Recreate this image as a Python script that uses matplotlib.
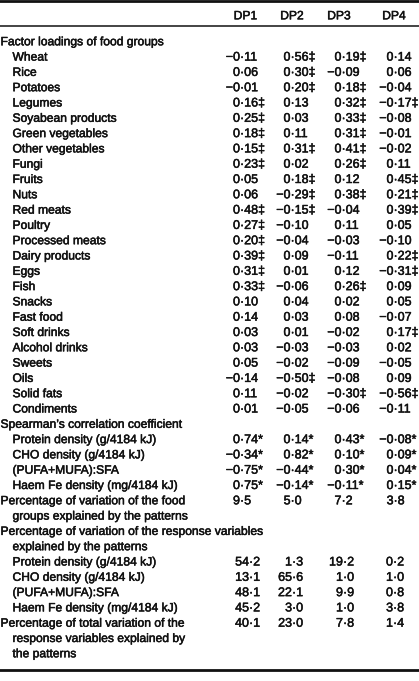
import matplotlib
matplotlib.use('Agg')
import matplotlib.pyplot as plt
import matplotlib.patheffects as pe

plt.rcParams['font.family'] = ['Liberation Sans', 'DejaVu Sans']

headers = ['DP1', 'DP2', 'DP3', 'DP4']

food_groups = ['Wheat', 'Rice', 'Potatoes', 'Legumes', 'Soyabean products',
               'Green vegetables', 'Other vegetables', 'Fungi', 'Fruits', 'Nuts',
               'Red meats', 'Poultry', 'Processed meats', 'Dairy products', 'Eggs',
               'Fish', 'Snacks', 'Fast food', 'Soft drinks', 'Alcohol drinks',
               'Sweets', 'Oils', 'Solid fats', 'Condiments']
dp1 = [-0.11, 0.06, -0.01, 0.16, 0.25, 0.18, 0.15, 0.23, 0.05, 0.06, 0.48, 0.27,
       0.20, 0.39, 0.31, 0.33, 0.10, 0.14, 0.03, 0.03, 0.05, -0.14, 0.11, 0.01]
dp2 = [0.56, 0.30, 0.20, 0.13, 0.03, 0.11, 0.31, 0.02, 0.18, -0.29, -0.15, -0.10,
       -0.04, 0.09, 0.01, -0.06, 0.04, 0.03, 0.01, -0.03, -0.02, -0.50, -0.02, -0.05]
dp3 = [0.19, -0.09, 0.18, 0.32, 0.33, 0.31, 0.41, 0.26, 0.12, 0.38, -0.04, 0.11,
       -0.03, -0.11, 0.12, 0.26, 0.02, 0.08, -0.02, -0.03, -0.09, -0.08, -0.30, -0.06]
dp4 = [0.14, 0.06, -0.04, -0.17, -0.08, -0.01, -0.02, 0.11, 0.45, 0.21, 0.39, 0.05,
       -0.10, 0.22, -0.31, 0.09, 0.05, -0.07, 0.17, 0.02, -0.05, 0.09, -0.56, -0.11]
# 1 = flagged with a double dagger
sig1 = [0, 0, 0, 1, 1, 1, 1, 1, 0, 0, 1, 1, 1, 1, 1, 1, 0, 0, 0, 0, 0, 0, 0, 0]
sig2 = [1, 1, 1, 0, 0, 0, 1, 0, 1, 1, 1, 0, 0, 0, 0, 0, 0, 0, 0, 0, 0, 1, 0, 0]
sig3 = [1, 0, 1, 1, 1, 1, 1, 1, 0, 1, 0, 0, 0, 0, 0, 1, 0, 0, 0, 0, 0, 0, 1, 0]
sig4 = [0, 0, 0, 1, 0, 0, 0, 0, 1, 1, 1, 0, 0, 1, 1, 0, 0, 0, 1, 0, 0, 0, 1, 0]

responses = ['Protein density (g/4184 kJ)', 'CHO density (g/4184 kJ)',
             '(PUFA+MUFA):SFA', 'Haem Fe density (mg/4184 kJ)']
spearman = [[0.74, 0.14, 0.43, -0.08],
            [-0.34, 0.82, 0.10, 0.09],
            [-0.75, -0.44, 0.30, 0.04],
            [0.75, -0.14, -0.11, 0.15]]
pct_food = [9.5, 5.0, 7.2, 3.8]
pct_resp = [[54.2, 1.3, 19.2, 0.2],
            [13.1, 65.6, 1.0, 1.0],
            [48.1, 22.1, 9.9, 0.8],
            [45.2, 3.0, 1.0, 3.8]]
pct_total = [40.1, 23.0, 7.8, 1.4]


def fmt(v, nd, mark=''):
    s = f'{v:.{nd}f}'.replace('-', '\u2212')
    a, b = s.split('.')
    return a, '\u00b7' + b + mark


W, H = 419, 681
fig = plt.figure(figsize=(W / 100, H / 100), dpi=100)
ax = fig.add_axes([0, 0, 1, 1])
ax.set_xlim(0, W)
ax.set_ylim(H, 0)
ax.axis('off')

FS = 8.7
FSN = 9.0
COL = '#111111'
thick = [pe.withStroke(linewidth=0.35, foreground=COL)]
head_x = [245.5, 292, 339, 394]
dec_x = [240, 290.5, 341.5, 393.5]
dec_x2 = [249, 292, 343, 393]
step = 15.3
y0 = 41 + 4.3  # baseline of first body line

ax.axhline(1.3, color=COL, lw=2.0)
ax.axhline(26, color=COL, lw=1.1)
ax.axhline(669.5, color=COL, lw=2.0)

for x, h in zip(head_x, headers):
    ax.text(x, 15 + 4.3, h, ha='center', va='baseline', fontsize=FS, color=COL,
            path_effects=thick)


def label(i, s, indent):
    ax.text(12.5 if indent else 0.5, y0 + i * step, s, ha='left', va='baseline',
            fontsize=FS, color=COL, path_effects=thick)


def num(i, x, parts):
    a, b = parts
    y = y0 + i * step
    ax.text(x, y, a, ha='right', va='baseline', fontsize=FSN, color=COL,
            path_effects=thick)
    ax.text(x, y, b, ha='left', va='baseline', fontsize=FSN, color=COL,
            path_effects=thick)


line = 0
label(line, 'Factor loadings of food groups', False)
cols = [dp1, dp2, dp3, dp4]
sigs = [sig1, sig2, sig3, sig4]
for k, name in enumerate(food_groups):
    line += 1
    label(line, name, True)
    for j in range(4):
        num(line, dec_x[j], fmt(cols[j][k], 2, '\u2021' if sigs[j][k] else ''))

line += 1
label(line, 'Spearman\u2019s correlation coefficient', False)
for k, name in enumerate(responses):
    line += 1
    label(line, name, True)
    for j in range(4):
        num(line, dec_x[j], fmt(spearman[k][j], 2, '*'))

line += 1
label(line, 'Percentage of variation of the food', False)
for j in range(4):
    num(line, dec_x[j], fmt(pct_food[j], 1))
line += 1
label(line, 'groups explained by the patterns', True)

line += 1
label(line, 'Percentage of variation of the response variables', False)
line += 1
label(line, 'explained by the patterns', True)
for k, name in enumerate(responses):
    line += 1
    label(line, name, True)
    for j in range(4):
        num(line, dec_x2[j], fmt(pct_resp[k][j], 1))

line += 1
label(line, 'Percentage of total variation of the', False)
for j in range(4):
    num(line, dec_x2[j], fmt(pct_total[j], 1))
line += 1
label(line, 'response variables explained by', True)
line += 1
label(line, 'the patterns', True)

fig.savefig('out.png', dpi=100)
